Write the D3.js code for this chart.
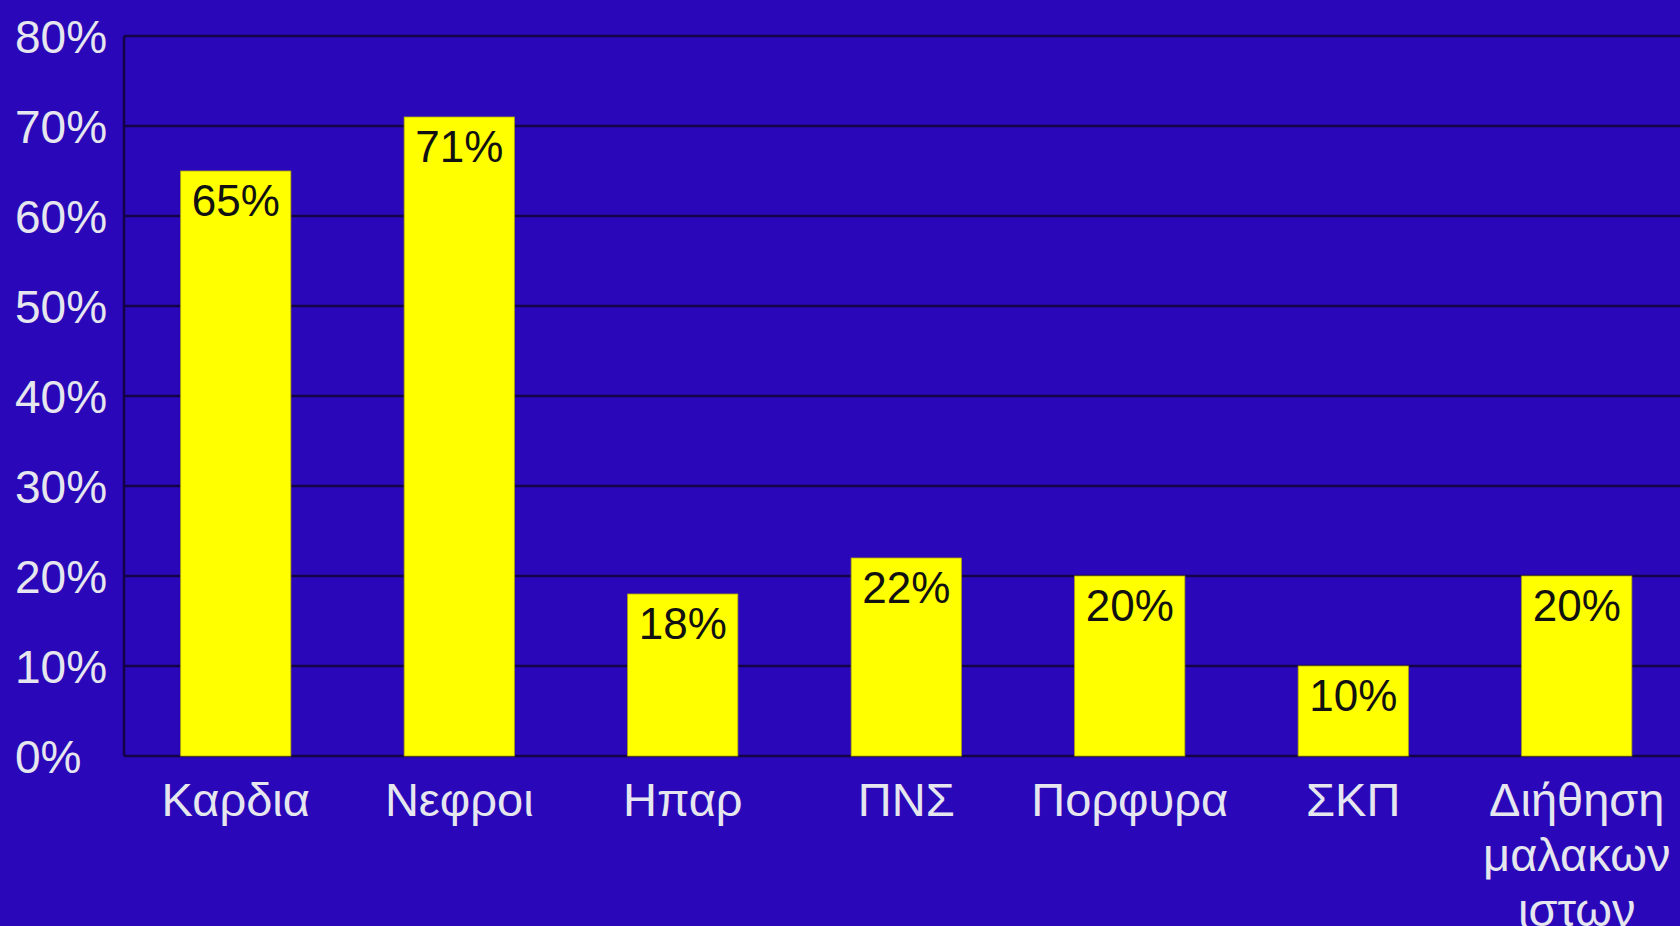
<!DOCTYPE html>
<html>
<head>
<meta charset="utf-8">
<script src="https://cdn.jsdelivr.net/npm/d3@7"></script>
<style>
  html, body { margin: 0; padding: 0; background: #2a08b9; overflow: hidden; }
  svg { display: block; }
</style>
</head>
<body>
<svg id="chart" width="1680" height="926"></svg>
<script>
// Organ involvement, share of patients
const categories = ["Καρδια", "Νεφροι", "Ηπαρ", "ΠΝΣ", "Πορφυρα", "ΣΚΠ", "Διήθηση μαλακων ιστων"];
const categoryLines = [["Καρδια"], ["Νεφροι"], ["Ηπαρ"], ["ΠΝΣ"], ["Πορφυρα"], ["ΣΚΠ"], ["Διήθηση", "μαλακων", "ιστων"]];
const values = [65, 71, 18, 22, 20, 10, 20];
const valueLabels = ["65%", "71%", "18%", "22%", "20%", "10%", "20%"];
const yTicks = [0, 10, 20, 30, 40, 50, 60, 70, 80];
const yTickLabels = ["0%", "10%", "20%", "30%", "40%", "50%", "60%", "70%", "80%"];

(function draw() {
  const svg = d3.select("#chart");
  const W = 1680, H = 926;
  const plotLeft = 124, plotTop = 36, plotBottom = 756;
  const step = 223.5;
  const plotRight = plotLeft + step * categories.length;

  svg.append("rect").attr("width", W).attr("height", H).attr("fill", "#2a08b9");

  const x = d3.scaleBand()
    .domain(categories)
    .range([plotLeft, plotRight])
    .paddingInner(0.507)
    .paddingOuter(0.2535);

  const y = d3.scaleLinear().domain([0, 80]).range([plotBottom, plotTop]);

  // horizontal gridlines
  svg.append("g")
    .selectAll("line")
    .data(yTicks)
    .join("line")
    .attr("x1", plotLeft).attr("x2", plotRight)
    .attr("y1", d => y(d)).attr("y2", d => y(d))
    .attr("stroke", "#140346")
    .attr("stroke-width", 2.5);

  // vertical axis line
  svg.append("line")
    .attr("x1", plotLeft).attr("x2", plotLeft)
    .attr("y1", y(80)).attr("y2", y(0))
    .attr("stroke", "#140346")
    .attr("stroke-width", 2.5);

  // y tick labels, left aligned
  svg.append("g")
    .selectAll("text")
    .data(yTicks)
    .join("text")
    .attr("x", 15)
    .attr("y", d => y(d))
    .attr("dy", "0.36em")
    .attr("fill", "#e6e6ee")
    .attr("font-family", "Liberation Sans, Arial, sans-serif")
    .attr("font-size", 46)
    .text((d, i) => yTickLabels[i]);

  // bars
  svg.append("g")
    .selectAll("rect")
    .data(values)
    .join("rect")
    .attr("x", (d, i) => x(categories[i]))
    .attr("y", d => y(d))
    .attr("width", x.bandwidth())
    .attr("height", d => y(0) - y(d))
    .attr("fill", "#ffff00")
    .attr("stroke", "#b3a800")
    .attr("stroke-width", 0.8);

  // value labels inside bar tops
  svg.append("g")
    .selectAll("text")
    .data(values)
    .join("text")
    .attr("x", (d, i) => x(categories[i]) + x.bandwidth() / 2)
    .attr("y", d => y(d) + 45)
    .attr("text-anchor", "middle")
    .attr("fill", "#111111")
    .attr("font-family", "Liberation Sans, Arial, sans-serif")
    .attr("font-size", 44)
    .text((d, i) => valueLabels[i]);

  // category labels
  const cat = svg.append("g")
    .selectAll("text")
    .data(categories)
    .join("text")
    .attr("x", d => x(d) + x.bandwidth() / 2)
    .attr("y", 816)
    .attr("text-anchor", "middle")
    .attr("fill", "#e6e6ee")
    .attr("font-family", "Liberation Sans, Arial, sans-serif")
    .attr("font-size", 47);

  cat.each(function(d, i) {
    const t = d3.select(this);
    categoryLines[i].forEach((line, j) => {
      t.append("tspan")
        .attr("x", x(d) + x.bandwidth() / 2)
        .attr("dy", j === 0 ? 0 : 55)
        .text(line);
    });
  });
})();
</script>
</body>
</html>
